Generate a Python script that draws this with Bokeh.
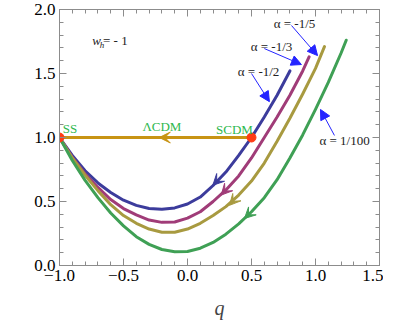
from bokeh.plotting import figure
from bokeh.models import LinearAxis, FixedTicker, Label, Arrow, VeeHead, NormalHead, Range1d
from bokeh.core.properties import value
from bokeh.embed import file_html
from bokeh.resources import INLINE

# ---------------- data ----------------
q_half = [-1.0, -0.9, -0.8, -0.7, -0.6, -0.5, -0.4, -0.3, -0.2, -0.1, 0.0, 0.1, 0.2, 0.3, 0.4, 0.5, 0.6, 0.7, 0.8]
r_half = [1.0, 0.86, 0.74, 0.645, 0.57, 0.51, 0.47, 0.445, 0.44, 0.45, 0.48, 0.535, 0.625, 0.73, 0.86, 1.0, 1.16, 1.33, 1.52]

q_third = [-1.0, -0.9, -0.8, -0.7, -0.6, -0.5, -0.4, -0.3, -0.2, -0.1, 0.0, 0.1, 0.2, 0.3, 0.4, 0.5, 0.6, 0.7, 0.8, 0.9, 0.95]
r_third = [1.0, 0.845, 0.715, 0.61, 0.515, 0.445, 0.395, 0.355, 0.337, 0.34, 0.37, 0.42, 0.5, 0.59, 0.70, 0.84, 1.0, 1.16, 1.33, 1.52, 1.63]

q_fifth = [-1.0, -0.9, -0.8, -0.7, -0.6, -0.5, -0.4, -0.3, -0.2, -0.1, 0.0, 0.1, 0.2, 0.3, 0.4, 0.5, 0.6, 0.7, 0.8, 0.9, 1.0, 1.07]
r_fifth = [1.0, 0.84, 0.705, 0.585, 0.475, 0.39, 0.33, 0.285, 0.26, 0.26, 0.285, 0.33, 0.39, 0.46, 0.55, 0.66, 0.80, 0.97, 1.15, 1.34, 1.54, 1.71]

q_hund = [-1.0, -0.9, -0.8, -0.7, -0.6, -0.5, -0.4, -0.3, -0.2, -0.1, 0.0, 0.1, 0.2, 0.3, 0.4, 0.5, 0.6, 0.7, 0.8, 0.9, 1.0, 1.1, 1.2, 1.24]
r_hund = [1.0, 0.82, 0.665, 0.53, 0.41, 0.31, 0.225, 0.165, 0.125, 0.107, 0.11, 0.135, 0.18, 0.245, 0.325, 0.42, 0.53, 0.67, 0.84, 1.02, 1.22, 1.43, 1.66, 1.76]

# arrowheads drawn on the curves (tip positions)
arrow_q = [0.198, 0.263, 0.328, 0.445]
arrow_r = [0.627, 0.55, 0.47, 0.367]

lcdm_q = [-1.0, 0.5]
lcdm_r = [1.0, 1.0]
lcdm_arrow_q = -0.22

fixed_q = [-1.0, 0.5]             # SS and SCDM points
fixed_r = [1.0, 1.0]

alpha_labels = ["\u03b1 = -1/2", "\u03b1 = -1/3", "\u03b1 = -1/5", "\u03b1 = 1/100"]
label_q = [0.555, 0.656, 0.836, 1.227]
label_r = [1.516, 1.71, 1.89, 0.977]
pointer_from_q = [0.50, 0.60, 0.8125, 1.148]
pointer_from_r = [1.50, 1.695, 1.875, 1.016]
pointer_to_q = [0.64, 0.89, 1.016, 1.039]
pointer_to_r = [1.28, 1.57, 1.64, 1.219]

x_ticks = [-1.0, -0.5, 0.0, 0.5, 1.0, 1.5]
x_tick_labels = ["\u22121.0", "\u22120.5", "0.0", "0.5", "1.0", "1.5"]
y_ticks = [0.0, 0.5, 1.0, 1.5, 2.0]
y_tick_labels = ["0.0", "0.5", "1.0", "1.5", "2.0"]
minor_x = [round(-1.0 + 0.1 * i, 2) for i in range(26)]
minor_y = [round(0.1 * i, 2) for i in range(21)]

colors = ["#3c3c9c", "#a03c78", "#a89a40", "#3fa055"]
gold = "#c89414"
dot_red = "#ff3c14"
label_green = "#2eb84e"
arrow_blue = "#2424ff"
frame_gray = "#8c8c8c"
serif = "Liberation Serif"

# ---------------- figure ----------------
p = figure(frame_width=320, frame_height=256, output_backend="svg", toolbar_location=None,
           x_range=Range1d(-1.0, 1.5), y_range=Range1d(0.0, 2.0),
           min_border_left=59, min_border_right=4, min_border_top=9, min_border_bottom=52,
           x_axis_location=None, y_axis_location=None)
p.grid.visible = False
p.outline_line_color = frame_gray
p.background_fill_color = "white"
p.border_fill_color = "white"


def make_axis(show_labels, ticks, labels, minor):
    ax = LinearAxis()
    ax.ticker = FixedTicker(ticks=ticks, minor_ticks=minor)
    ax.axis_line_color = frame_gray
    ax.major_tick_line_color = frame_gray
    ax.minor_tick_line_color = frame_gray
    ax.major_tick_in = 7
    ax.major_tick_out = 0
    ax.minor_tick_in = 4
    ax.minor_tick_out = 0
    if show_labels:
        ax.major_label_overrides = dict(zip(ticks, labels))
        ax.major_label_text_font = serif
        ax.major_label_text_font_size = "17px"
        ax.major_label_text_color = "black"
        ax.major_label_standoff = 4
    else:
        ax.major_label_overrides = {t: "" for t in ticks}
        ax.major_label_standoff = 0
    return ax


xb = make_axis(True, x_ticks, x_tick_labels, minor_x)
xb.axis_label = "q"
xb.axis_label_text_font = serif
xb.axis_label_text_font_style = "italic"
xb.axis_label_text_font_size = "20px"
xb.axis_label_standoff = 13
p.add_layout(xb, "below")
p.add_layout(make_axis(False, x_ticks, x_tick_labels, minor_x), "above")
p.add_layout(make_axis(True, y_ticks, y_tick_labels, minor_y), "left")
p.add_layout(make_axis(False, y_ticks, y_tick_labels, minor_y), "right")

# Lambda CDM line
p.line(lcdm_q, lcdm_r, line_color=gold, line_width=3)
p.add_layout(Arrow(end=VeeHead(size=11, fill_color=gold, line_color=gold, line_width=1),
                   x_start=lcdm_arrow_q + 0.05, y_start=lcdm_r[0],
                   x_end=lcdm_arrow_q, y_end=lcdm_r[0], line_alpha=0))

# curves
curves = [(q_half, r_half), (q_third, r_third), (q_fifth, r_fifth), (q_hund, r_hund)]
for (qs, rs), c, aq, ar in zip(curves, colors, arrow_q, arrow_r):
    p.line(qs, rs, line_color=c, line_width=3, line_join="round", line_cap="round")
    nxt = next(i for i, v in enumerate(qs) if v > aq + 0.03)
    p.add_layout(Arrow(end=VeeHead(size=11, fill_color=c, line_color=c, line_width=1),
                       x_start=qs[nxt], y_start=rs[nxt],
                       x_end=aq, y_end=ar, line_alpha=0))

# SS / SCDM points
p.scatter(fixed_q, fixed_r, size=9, fill_color=dot_red, line_color=dot_red)

# green labels
for txt, x, y in [("SS", -0.975, 1.07), ("\u039bCDM", -0.2, 1.085), ("SCDM", 0.367, 1.06)]:
    p.add_layout(Label(x=x, y=y, text=txt, text_font=serif, text_font_size="13px",
                       text_color=label_green, text_align="center" if txt != "SS" else "left",
                       text_baseline="middle"))

# w_h = -1
p.add_layout(Label(x=-0.745, y=1.76, text="w", text_font=serif, text_font_style="italic",
                   text_font_size="13px", text_color="#222222", text_baseline="middle"))
p.add_layout(Label(x=-0.685, y=1.725, text="h", text_font=serif, text_font_style="italic",
                   text_font_size="9px", text_color="#222222", text_baseline="middle"))
p.add_layout(Label(x=-0.66, y=1.76, text=" = - 1", text_font=serif,
                   text_font_size="13px", text_color="#222222", text_baseline="middle"))

# alpha labels + blue pointers
p.text(label_q, label_r, text=alpha_labels, text_font=value(serif), text_font_size="13px",
       text_color="#222222", text_align="center", text_baseline="middle")
for i in range(4):
    p.add_layout(Arrow(end=NormalHead(size=10, fill_color=arrow_blue, line_color=arrow_blue),
                       x_start=pointer_from_q[i], y_start=pointer_from_r[i],
                       x_end=pointer_to_q[i], y_end=pointer_to_r[i],
                       line_color=arrow_blue, line_width=1))

# y axis label
p.add_layout(Label(x=-1.35, y=1.0, text="r", text_font=serif, text_font_style="italic",
                   text_font_size="20px", text_color="black", text_align="center",
                   text_baseline="middle"))

open("out.html", "w").write(file_html(p, INLINE))
